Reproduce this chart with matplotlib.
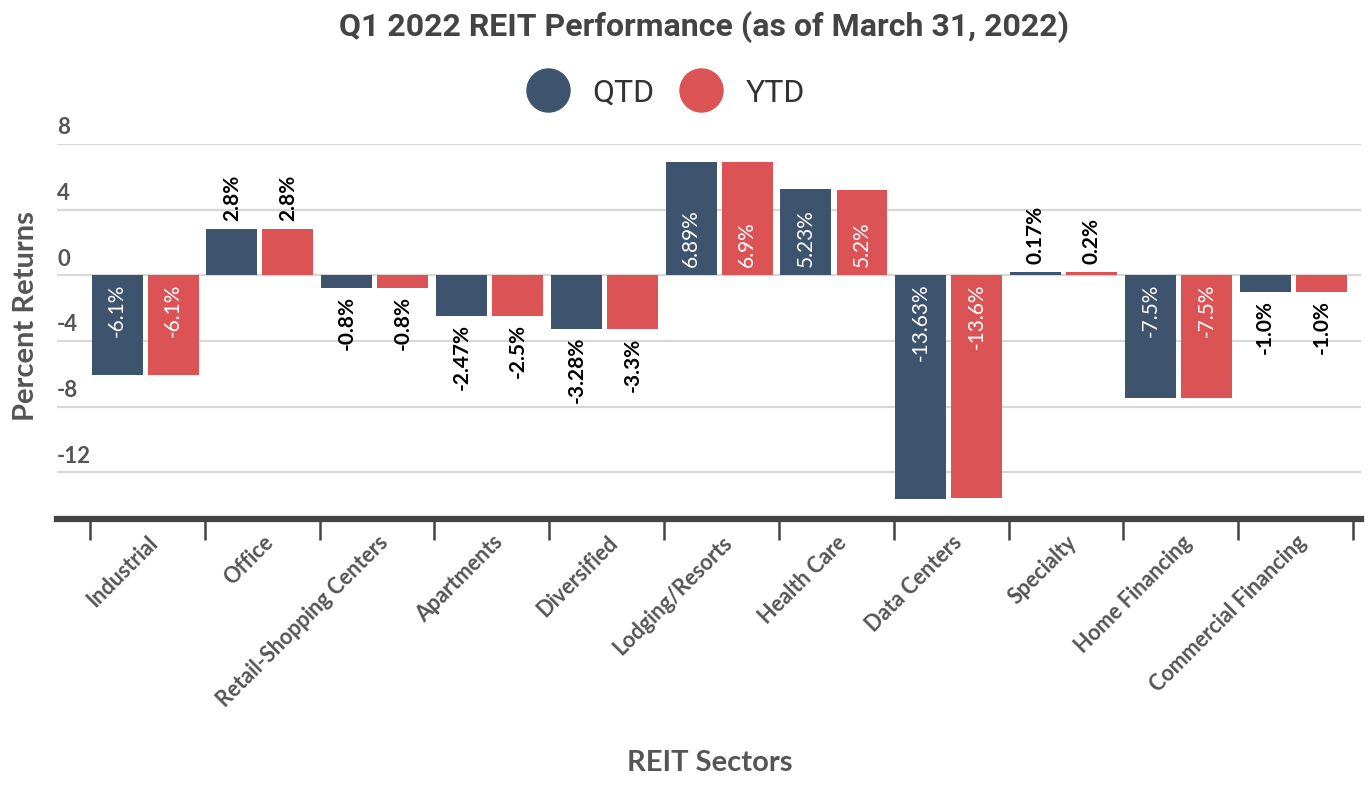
import matplotlib
matplotlib.use("Agg")
import matplotlib.pyplot as plt
from matplotlib.lines import Line2D
import numpy as np

sectors = ["Industrial", "Office", "Retail-Shopping Centers", "Apartments", "Diversified",
           "Lodging/Resorts", "Health Care", "Data Centers", "Specialty", "Home Financing",
           "Commercial Financing"]
qtd = [-6.1, 2.8, -0.8, -2.47, -3.28, 6.89, 5.23, -13.63, 0.17, -7.5, -1.0]
ytd = [-6.1, 2.8, -0.8, -2.5, -3.3, 6.9, 5.2, -13.6, 0.2, -7.5, -1.0]
qtd_labels = ["-6.1%", "2.8%", "-0.8%", "-2.47%", "-3.28%", "6.89%", "5.23%", "-13.63%", "0.17%", "-7.5%", "-1.0%"]
ytd_labels = ["-6.1%", "2.8%", "-0.8%", "-2.5%", "-3.3%", "6.9%", "5.2%", "-13.6%", "0.2%", "-7.5%", "-1.0%"]
yticks = [8, 4, 0, -4, -8, -12]

QTD_COLOR = "#3e536e"
YTD_COLOR = "#dc5356"
TEXT = "#555555"

W, H = 1369, 792
fig = plt.figure(figsize=(W / 100, H / 100), dpi=100)
ax = fig.add_axes([57 / W, 1 - 519.3 / H, (1361 - 57) / W, (519.3 - 144) / H])

x = np.arange(len(sectors))
bw = 0.444


def add_labels(xs, vals, labels):
    # big bars get a white label inside, small ones a black label outside
    for xi, v, lab in zip(xs, vals, labels):
        inside = abs(v) >= 5
        if inside:
            y0, off = 0, (8 if v > 0 else -8)
            color, weight = "white", "normal"
        else:
            y0, off = v, (8 if v > 0 else -8)
            color, weight = "black", "bold"
        ax.annotate(lab, (xi, y0), xytext=(0, off * 0.72), textcoords="offset points",
                    rotation=90, ha="center", va="bottom" if off > 0 else "top",
                    fontsize=15, color=color, fontweight=weight, family="Lato", zorder=5)


ax.bar(x - 0.264, qtd, width=bw, color=QTD_COLOR, zorder=3)
ax.bar(x + 0.224, ytd, width=bw, color=YTD_COLOR, zorder=3)
add_labels(x - 0.264, qtd, qtd_labels)
add_labels(x + 0.224, ytd, ytd_labels)

ax.set_xlim(-0.787, 10.57)
ax.set_ylim(-14.87, 8)

# grid lines and y labels sitting above them
for t in yticks:
    ax.axhline(t, color="#d8d8d8", lw=1.6, zorder=1)
    ax.annotate(str(t), (0, t), xycoords=("axes fraction", "data"), xytext=(0, 4),
                textcoords="offset points", ha="left", va="bottom",
                fontsize=16, fontweight="bold", color=TEXT, family="Lato")
ax.set_yticks([])

for s in ["top", "right", "left"]:
    ax.spines[s].set_visible(False)
ax.spines["bottom"].set_color("#444444")
ax.spines["bottom"].set_linewidth(4.5)

ax.set_xticks(np.arange(-0.5, len(sectors)), labels=[""] * (len(sectors) + 1))
ax.tick_params(axis="x", which="major", length=15, width=1.8, color="#444444", direction="out")
ax.set_xticks(x, labels=sectors, minor=True)
ax.tick_params(axis="x", which="minor", length=0, pad=9)
for lab in ax.get_xticklabels(minor=True):
    lab.set_rotation(45)
    lab.set_ha("right")
    lab.set_rotation_mode("anchor")
    lab.set_fontsize(15.5)
    lab.set_fontweight("bold")
    lab.set_color(TEXT)
    lab.set_family("Lato")

fig.text(26 / W, 1 - 316 / H, "Percent Returns", rotation=90, ha="center", va="center",
         fontsize=21, fontweight="bold", color=TEXT, family="Lato")
fig.text(710 / W, 1 - 763 / H, "REIT Sectors", ha="center", va="center",
         fontsize=21, fontweight="bold", color=TEXT, family="Lato")
fig.text(704 / W, 1 - 27 / H, "Q1 2022 REIT Performance (as of March 31, 2022)", ha="center",
         va="center", fontsize=23, fontweight="bold", color="#444444", family="Roboto")

handles = [Line2D([], [], ls="none", marker="o", ms=31, color=QTD_COLOR),
           Line2D([], [], ls="none", marker="o", ms=31, color=YTD_COLOR)]
fig.legend(handles, ["QTD", "YTD"], loc="center", bbox_to_anchor=(666 / W, 1 - 93 / H), ncol=2,
           frameon=False, prop={"family": "Roboto", "size": 23}, labelcolor="#333333",
           handletextpad=0.75, columnspacing=0.8, handlelength=1.3)

fig.savefig("out.png", dpi=100)
